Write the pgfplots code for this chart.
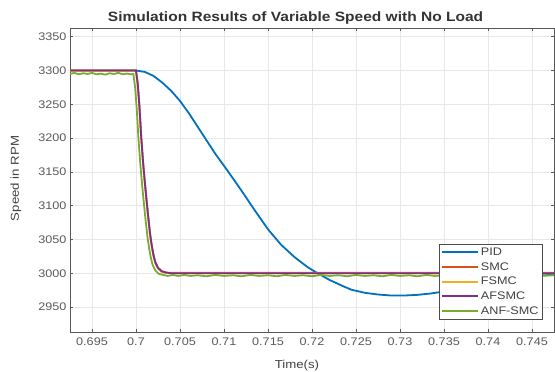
\documentclass[border=0pt]{standalone}
\usepackage{pgfplots}
\pgfplotsset{compat=1.18}
\usepackage{fontspec}
\setmainfont[FakeStretch=1.15]{Liberation Sans}
\definecolor{cPID}{rgb}{0,0.447,0.741}
\definecolor{cSMC}{rgb}{0.85,0.325,0.098}
\definecolor{cFSMC}{rgb}{0.929,0.694,0.125}
\definecolor{cAFSMC}{rgb}{0.494,0.184,0.556}
\definecolor{cANF}{rgb}{0.466,0.674,0.188}
\begin{document}
\begin{tikzpicture}
\begin{axis}[
  at={(70pt,40pt)}, anchor=south west, scale only axis,
  width=484pt, height=304pt,
  xmin=0.6925, xmax=0.7475, ymin=2913, ymax=3363,
  xtick={0.695,0.7,0.705,0.71,0.715,0.72,0.725,0.73,0.735,0.74,0.745},
  ytick={2950,3000,3050,3100,3150,3200,3250,3300,3350},
  /pgf/number format/fixed, /pgf/number format/precision=3,
  /pgf/number format/1000 sep={}, /pgf/number format/assume math mode=true,
  grid=major, major grid style={gray!18, line width=0.6pt},
  tick align=inside, xtick pos=both, ytick pos=both,
  major tick length=3pt,
  axis line style={black!65, line width=0.8pt},
  tick style={black!65, line width=0.6pt},
  ticklabel style={font=\fontsize{11}{13}\selectfont, text=black!65},
  xticklabel style={yshift=-2pt},
  title={Simulation Results of Variable Speed with No Load},
  title style={font=\bfseries\fontsize{13.5}{15}\selectfont, at={(axis description cs:0.466,1)}, anchor=center, yshift=4pt, text=black!80},
  xlabel={Time(s)},
  xlabel style={font=\fontsize{11.5}{13}\selectfont, at={(axis description cs:0.469,-0.11)}, anchor=center, text=black!75},
  ylabel={Speed in RPM},
  ylabel style={font=\fontsize{11.5}{13}\selectfont, at={(axis description cs:-0.112,0.505)}, anchor=center, text=black!75},
  legend style={at={(axis description cs:0.977,0.0395)}, anchor=south east,
    font=\fontsize{11}{12}\selectfont, draw=black!70, line width=0.6pt,
    inner sep=2pt, row sep=1.5pt, text=black!75},
  legend cell align=left,
  legend image code/.code={\draw[#1, line width=2pt] (0pt,0pt) -- (36pt,0pt);},
  every axis plot/.append style={line width=1.8pt},
]
\addplot[cPID] coordinates {
(0.6925,3300) (0.7,3300) (0.701,3298) (0.702,3292) (0.703,3282) (0.704,3270)
(0.705,3255) (0.706,3237) (0.707,3217) (0.708,3197) (0.709,3177) (0.7105,3150)
(0.712,3122) (0.7135,3093) (0.715,3065) (0.7165,3042) (0.718,3024) (0.7195,3009)
(0.7205,3001) (0.722,2990) (0.7235,2981) (0.7245,2975.5) (0.726,2971) (0.7275,2968.5)
(0.729,2967) (0.7305,2967) (0.732,2968) (0.7335,2970) (0.735,2973) (0.737,2978)
(0.739,2983) (0.741,2988) (0.743,2992) (0.745,2995.5) (0.7475,2998)
};
\addlegendentry{PID}
\addplot[cSMC] coordinates {
(0.6925,3300) (0.7,3300) (0.7002,3280) (0.7004,3245) (0.7006,3200) (0.7008,3165)
(0.7010,3135) (0.7012,3108) (0.7014,3082) (0.7016,3058) (0.7018,3040) (0.7020,3026)
(0.7022,3016) (0.7025,3008) (0.7029,3003) (0.7034,3001) (0.704,3000.5) (0.7475,3000.5)
};
\addlegendentry{SMC}
\addplot[cFSMC] coordinates {
(0.6925,3299.5) (0.7,3299.5) (0.7002,3279) (0.7004,3244) (0.7006,3199) (0.7008,3164)
(0.7010,3134) (0.7012,3107) (0.7014,3081) (0.7016,3057) (0.7018,3039) (0.7020,3025)
(0.7022,3015) (0.7025,3007) (0.7029,3002) (0.7034,3000.5) (0.704,3000) (0.7475,3000)
};
\addlegendentry{FSMC}
\addplot[cAFSMC] coordinates {
(0.6925,3300) (0.7,3300) (0.7002,3280) (0.7004,3245) (0.7006,3200) (0.7008,3165)
(0.7010,3135) (0.7012,3108) (0.7014,3082) (0.7016,3058) (0.7018,3040) (0.7020,3026)
(0.7022,3016) (0.7025,3008) (0.7029,3003) (0.7034,3001) (0.704,3000) (0.7475,3000)
};
\addlegendentry{AFSMC}
\addplot[cANF] coordinates {
(0.6925,3295) (0.6930,3296.5) (0.6935,3294.5) (0.6940,3296) (0.6945,3295) (0.6950,3296.5)
(0.6955,3294.5) (0.6960,3295.5) (0.6965,3294) (0.6970,3296) (0.6975,3295) (0.6980,3296.5)
(0.6985,3294.5) (0.6990,3295.5) (0.6994,3294.5) (0.6997,3295)
(0.6999,3275) (0.7001,3240) (0.7003,3195) (0.7005,3160) (0.7007,3130) (0.7009,3103)
(0.7011,3077) (0.7013,3054) (0.7015,3036) (0.7017,3022) (0.7019,3012) (0.7022,3004)
(0.7026,2999) (0.7031,2997.5) (0.7036,2996) (0.7042,2997.5) (0.7048,2996)
(0.7055,2997.5) (0.7062,2996) (0.707,2997) (0.708,2995.5) (0.709,2997.5) (0.710,2996)
(0.711,2997) (0.712,2995.5) (0.713,2997.5) (0.714,2996) (0.715,2997) (0.716,2995.5)
(0.717,2997.5) (0.718,2996) (0.719,2997) (0.720,2995.5) (0.721,2997.5) (0.722,2996)
(0.723,2997) (0.724,2995.5) (0.725,2997.5) (0.726,2996) (0.727,2997) (0.728,2995.5)
(0.729,2997.5) (0.730,2996) (0.731,2997) (0.732,2995.5) (0.733,2997.5) (0.734,2996)
(0.735,2997) (0.736,2995.5) (0.737,2997.5) (0.738,2996) (0.739,2997) (0.740,2995.5)
(0.741,2997.5) (0.742,2996) (0.743,2997) (0.744,2995.5) (0.745,2997.5) (0.746,2996)
(0.7475,2997)
};
\addlegendentry{ANF-SMC}
\end{axis}
\pgfresetboundingbox
\useasboundingbox (0pt,0pt) rectangle (555pt,372pt);
\end{tikzpicture}
\end{document}
